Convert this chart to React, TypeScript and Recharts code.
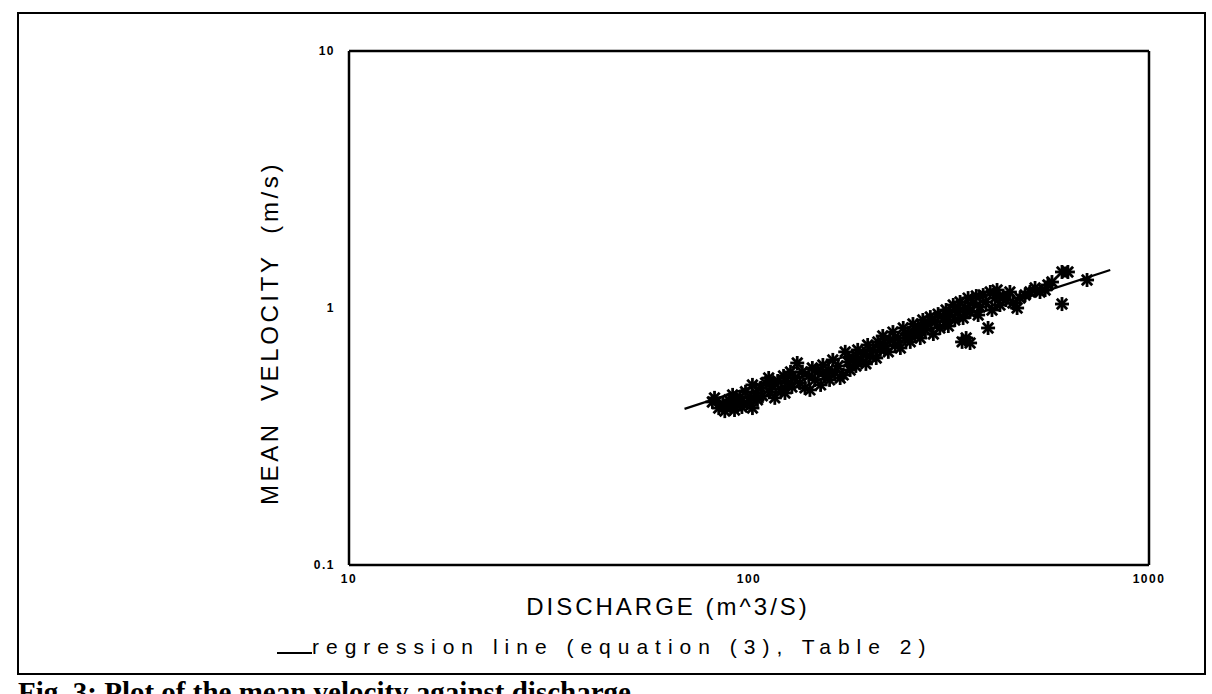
import React from 'react';
import { ScatterChart, Scatter, XAxis, YAxis, ReferenceLine } from 'recharts';

const discharge = [
  81, 82, 84, 86, 87, 89, 90, 91, 92, 94, 95, 96, 98, 99, 101, 102, 102, 104, 105, 107,
  108, 110, 112, 113, 114, 116, 118, 120, 122, 123, 125, 127, 128, 130, 132, 134, 136, 138, 141, 142,
  144, 146, 149, 151, 153, 155, 158, 159, 162, 164, 167, 169, 172, 174, 177, 179, 182, 185, 187, 190,
  193, 196, 198, 201, 204, 208, 210, 213, 216, 219, 223, 225, 229, 232, 236, 239, 243, 246, 250, 253,
  257, 260, 265, 268, 272, 276, 280, 284, 289, 292, 297, 300, 306, 311, 315, 318, 324, 327, 333, 337,
  341, 349, 357, 343, 347, 353, 357, 363, 370, 374, 378, 385, 391, 396, 401, 405, 412, 417, 424, 432,
  439, 449, 457, 468, 476, 490, 504, 519, 534, 550, 559, 572, 606, 627, 606, 700,
];
const velocity = [
  0.431, 0.447, 0.408, 0.424, 0.397, 0.439, 0.415, 0.459, 0.401, 0.431, 0.451, 0.412, 0.472, 0.427, 0.447, 0.502, 0.408, 0.467, 0.439, 0.489,
  0.455, 0.511, 0.534, 0.472, 0.498, 0.447, 0.52, 0.484, 0.544, 0.467, 0.511, 0.564, 0.493, 0.534, 0.611, 0.511, 0.564, 0.489, 0.544, 0.48,
  0.584, 0.525, 0.564, 0.502, 0.6, 0.544, 0.574, 0.525, 0.628, 0.564, 0.595, 0.534, 0.549, 0.675, 0.617, 0.574, 0.639, 0.595, 0.687, 0.628,
  0.663, 0.606, 0.718, 0.65, 0.687, 0.639, 0.738, 0.687, 0.778, 0.712, 0.675, 0.751, 0.806, 0.718, 0.764, 0.699, 0.836, 0.764, 0.799, 0.738,
  0.866, 0.792, 0.836, 0.764, 0.898, 0.821, 0.866, 0.922, 0.792, 0.882, 0.947, 0.836, 0.914, 0.982, 0.851, 0.939, 1.027, 0.898, 0.965, 1.055,
  0.738, 0.764, 0.731, 0.914, 1.0, 1.093, 0.965, 1.046, 1.113, 0.939, 1.009, 1.123, 1.055, 0.836, 1.154, 0.982, 1.093, 1.175, 1.027, 1.113,
  1.074, 1.154, 1.046, 1.0, 1.093, 1.123, 1.154, 1.196, 1.154, 1.175, 1.229, 1.262, 1.381, 1.381, 1.036, 1.285,
];

// regression line end points (equation (3), Table 2)
const regressionQ = [69, 800];
const regressionV = [0.405, 1.406];

const xTicks = [10, 100, 1000];
const yTicks = [0.1, 1, 10];

const observed = discharge.map((q, i) => ({ q, v: velocity[i] }));
const regression = regressionQ.map((q, i) => ({ q, v: regressionV[i] }));

// plotter-style asterisk marker
const Star = (props: any) => {
  const { cx, cy } = props;
  const r = 7;
  const d = 5.2;
  return (
    <g stroke="#000" strokeWidth={2.8}>
      <line x1={cx - r} y1={cy} x2={cx + r} y2={cy} />
      <line x1={cx} y1={cy - r} x2={cx} y2={cy + r} />
      <line x1={cx - d} y1={cy - d} x2={cx + d} y2={cy + d} />
      <line x1={cx - d} y1={cy + d} x2={cx + d} y2={cy - d} />
    </g>
  );
};

const tickStyle = {
  fontSize: 12, fontWeight: 'bold', fill: '#000', letterSpacing: 1.5,
  fontFamily: 'Liberation Sans, Arial, sans-serif',
};
const labelFont = 'Liberation Sans, Arial, sans-serif';

export default function App() {
  return (
    <div style={{ position: 'fixed', left: 0, top: 0, width: 1212, height: 694, background: '#fff', overflow: 'hidden' }}>
      {/* outer figure frame */}
      <div style={{ position: 'absolute', left: 17, top: 12, width: 1189, height: 663, border: '2.5px solid #000', boxSizing: 'border-box' }} />

      <div style={{ position: 'absolute', left: 0, top: 0 }}>
        <ScatterChart width={1212} height={694} margin={{ top: 51, right: 63, bottom: 99, left: 309 }}>
          <XAxis
            dataKey="q"
            type="number"
            scale="log"
            domain={[10, 1000]}
            ticks={xTicks}
            allowDataOverflow
            height={30}
            tickLine={false}
            tickSize={0}
            tickMargin={9}
            axisLine={{ stroke: '#000', strokeWidth: 2.5 }}
            tick={tickStyle}
          />
          <YAxis
            dataKey="v"
            type="number"
            scale="log"
            domain={[0.1, 10]}
            ticks={yTicks}
            allowDataOverflow
            width={40}
            tickLine={false}
            tickSize={0}
            tickMargin={14}
            axisLine={{ stroke: '#000', strokeWidth: 2.5 }}
            tick={tickStyle}
            tickFormatter={(v: number) => String(v)}
          />
          <ReferenceLine y={10} stroke="#000" strokeWidth={2.5} />
          <ReferenceLine x={1000} stroke="#000" strokeWidth={2.5} />
          <Scatter data={observed} shape={<Star />} isAnimationActive={false} />
          <Scatter
            data={regression}
            line={{ stroke: '#000', strokeWidth: 2.2 }}
            shape={() => <g />}
            isAnimationActive={false}
          />
        </ScatterChart>
      </div>

      {/* y axis title */}
      <div
        style={{
          position: 'absolute', left: 270, top: 333, transform: 'translate(-50%, -50%) rotate(-90deg)',
          whiteSpace: 'nowrap', fontFamily: labelFont, fontSize: 24, letterSpacing: 3.6, wordSpacing: 10, color: '#000',
        }}
      >
        MEAN VELOCITY (m/s)
      </div>

      {/* x axis title */}
      <div
        style={{
          position: 'absolute', left: 668, top: 607, transform: 'translate(-50%, -50%)',
          whiteSpace: 'nowrap', fontFamily: labelFont, fontSize: 24, letterSpacing: 3, color: '#000',
        }}
      >
        DISCHARGE (m^3/S)
      </div>

      {/* legend */}
      <div style={{ position: 'absolute', left: 277, top: 635, display: 'flex', alignItems: 'flex-end', whiteSpace: 'nowrap' }}>
        <svg width={35} height={22}>
          <line x1={0} y1={16} x2={35} y2={16} stroke="#000" strokeWidth={2} />
        </svg>
        <span style={{ fontFamily: labelFont, fontSize: 21, letterSpacing: 7, color: '#000' }}>
          regression line (equation (3), Table 2)
        </span>
      </div>

      {/* caption, cut off at the bottom of the scan */}
      <div
        style={{
          position: 'absolute', left: 18, top: 676, whiteSpace: 'nowrap',
          fontFamily: 'Liberation Serif, Times New Roman, serif', fontWeight: 'bold', fontSize: 29, color: '#000',
        }}
      >
        Fig. 3: Plot of the mean velocity against discharge
      </div>
    </div>
  );
}
